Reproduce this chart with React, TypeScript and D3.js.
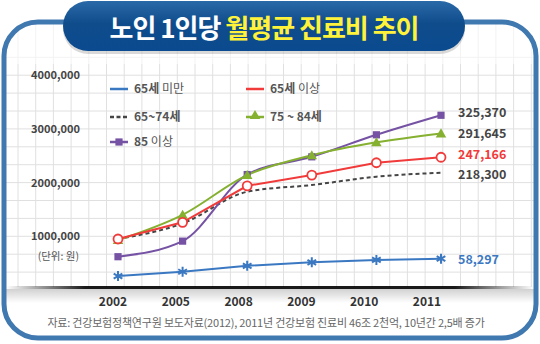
import React from "react";
import * as d3 from "d3";

const years = ["2002", "2005", "2008", "2009", "2010", "2011"];
const under65 = [26000, 34000, 45000, 51500, 56000, 58297];
const over65 = [95000, 126000, 194000, 214000, 237000, 247166];
const age65to74 = [95000, 124000, 183000, 195500, 211000, 218300];
const age75to84 = [93000, 140000, 214000, 251000, 275000, 291645];
const over85 = [62000, 91000, 215000, 248000, 289000, 325370];
const yTicks = [100000, 200000, 300000, 400000];
const yTickLabels = ["1000,000", "2000,000", "3000,000", "4000,000"];
const endLabels = ["325,370", "291,645", "247,166", "218,300", "58,297"];

const W = 540;
const H = 344;
const KR = "'Noto Sans CJK KR', 'Noto Sans', sans-serif";

const C_BLUE = "#3b78c2";
const C_RED = "#f13a3a";
const C_DASH = "#454545";
const C_GREEN = "#85b030";
const C_PURPLE = "#7552a3";

export default function App() {
  const x = d3.scalePoint<string>().domain(years).range([118, 441]);
  const xl = d3.scalePoint<string>().domain(years).range([113, 427]);
  const y = d3.scaleLinear().domain([0, 400000]).range([290, 75.2]);

  const mk = (vals: number[], curve: d3.CurveFactory) =>
    d3
      .line<number>()
      .x((_, i) => x(years[i]) as number)
      .y((v) => y(v))
      .curve(curve)(vals) as string;

  const gridV: number[] = [];
  for (let gx = 18; gx < 532; gx += 17.7) gridV.push(gx);
  const gridH: number[] = [];
  for (let gy = y(400000) - 17.9 * 1; gy < 288; gy += 17.9) gridH.push(gy);

  const asterisk = d3.symbol(d3.symbolAsterisk, 70)() as string;
  const tri = d3.symbol(d3.symbolTriangle, 48)() as string;
  const sq = d3.symbol(d3.symbolSquare, 52)() as string;

  const endY = [over85[5], age75to84[5], over65[5], age65to74[5], under65[5]];
  const endColors = ["#444", "#444", C_RED, "#444", C_BLUE];
  const endOffsets = [1.5, 4.5, 2, 6.5, 5];

  return (
    <svg width={W} height={H} style={{ display: "block", position: "absolute", left: 0, top: 0 }}>
      <defs>
        <linearGradient id="pill" x1="0" y1="0" x2="0" y2="1">
          <stop offset="0" stopColor="#2a69a8" />
          <stop offset="0.45" stopColor="#0f4c8c" />
          <stop offset="1" stopColor="#0a4a8e" />
        </linearGradient>
        <linearGradient id="base" x1="0" y1="0" x2="1" y2="0">
          <stop offset="0" stopColor="#000" stopOpacity="0" />
          <stop offset="0.15" stopColor="#000" stopOpacity="0.9" />
          <stop offset="0.85" stopColor="#000" stopOpacity="0.9" />
          <stop offset="1" stopColor="#000" stopOpacity="0" />
        </linearGradient>
        <linearGradient id="baseShadow" x1="0" y1="0" x2="0" y2="1">
          <stop offset="0" stopColor="#000" stopOpacity="0.18" />
          <stop offset="1" stopColor="#000" stopOpacity="0" />
        </linearGradient>
        <clipPath id="inner">
          <rect x={6} y={24} width={528} height={312} rx={32} />
        </clipPath>
      </defs>
      <rect x={0} y={0} width={W} height={H} fill="#fff" />
      <g clipPath="url(#inner)">
        {gridV.map((gx, i) => (
          <line key={"v" + i} x1={gx} x2={gx} y1={24} y2={287} stroke="#e0e0e0" strokeWidth={1} />
        ))}
        {gridH.map((gy, i) => (
          <line key={"h" + i} x1={6} x2={534} y1={gy} y2={gy} stroke="#e0e0e0" strokeWidth={1} />
        ))}
        <rect x={6} y={24} width={528} height={40} fill="#fff" opacity={0.6} />
        <rect x={6} y={289} width={528} height={14} fill="url(#baseShadow)" />
        <rect x={6} y={286} width={528} height={3} fill="url(#base)" />
      </g>
      <rect x={4} y={22} width={532} height={316} rx={34} fill="none" stroke="#4078b0" strokeWidth={5} />

      {/* title pill */}
      <rect x={63} y={4} width={402} height={50} rx={25} fill="#000" opacity={0.15} />
      <rect x={63} y={1} width={402} height={50} rx={25} fill="url(#pill)" />
      <text x={264} y={38} textAnchor="middle" fontFamily={KR} fontWeight={700} fontSize={26} letterSpacing={-1}>
        <tspan fill="#fff">노인 1인당 </tspan>
        <tspan fill="#fff23a">월평균 진료비 추이</tspan>
      </text>

      {/* y labels */}
      {yTicks.map((t, i) => (
        <text key={t} x={80} y={y(t) + 4} textAnchor="end" fontFamily={KR} fontWeight={700} fontSize={11} fill="#444">
          {yTickLabels[i]}
        </text>
      ))}
      <text x={79} y={y(100000) + 24} textAnchor="end" fontFamily={KR} fontSize={10.5} fill="#555">
        (단위: 원)
      </text>

      {/* x labels */}
      {years.map((yr) => (
        <text key={yr} x={xl(yr)} y={306} textAnchor="middle" fontFamily={KR} fontWeight={700} fontSize={12} fill="#333">
          {yr}
        </text>
      ))}

      {/* lines */}
      <path d={mk(under65, d3.curveLinear)} fill="none" stroke={C_BLUE} strokeWidth={2} />
      <path d={mk(age65to74, d3.curveMonotoneX)} fill="none" stroke={C_DASH} strokeWidth={2} strokeDasharray="4,3" />
      <path d={mk(over85, d3.curveMonotoneX)} fill="none" stroke={C_PURPLE} strokeWidth={2} />
      <path d={mk(age75to84, d3.curveMonotoneX)} fill="none" stroke={C_GREEN} strokeWidth={2} />
      <path d={mk(over65, d3.curveLinear)} fill="none" stroke={C_RED} strokeWidth={2} />

      {/* markers */}
      {under65.map((v, i) => (
        <path key={"b" + i} d={asterisk} transform={`translate(${x(years[i])},${y(v)})`} fill="none" stroke={C_BLUE} strokeWidth={2} />
      ))}
      {over85.map((v, i) => (
        <path key={"p" + i} d={sq} transform={`translate(${x(years[i])},${y(v)})`} fill={C_PURPLE} />
      ))}
      {age75to84.map((v, i) => (
        <path key={"g" + i} d={tri} transform={`translate(${x(years[i])},${y(v) + 1})`} fill={C_GREEN} />
      ))}
      {over65.map((v, i) => (
        <circle key={"r" + i} cx={x(years[i])} cy={y(v)} r={4.5} fill="#fff" stroke={C_RED} strokeWidth={1.8} />
      ))}

      {/* end labels */}
      {endLabels.map((l, i) => (
        <text key={l} x={458} y={y(endY[i]) + endOffsets[i]} fontFamily={KR} fontWeight={700} fontSize={12.5} fill={endColors[i]}>
          {l}
        </text>
      ))}

      {/* legend */}
      <g fontFamily={KR} fontSize={12} fill="#555">
        <line x1={110} x2={128} y1={89} y2={89} stroke={C_BLUE} strokeWidth={2.5} />
        <text x={134} y={93}>
          <tspan fontWeight={700}>65세</tspan> 미만
        </text>
        <line x1={110} x2={128} y1={117} y2={117} stroke={C_DASH} strokeWidth={2.5} strokeDasharray="4,2.5" />
        <text x={134} y={121} fontWeight={700}>
          65~74세
        </text>
        <line x1={110} x2={128} y1={142} y2={142} stroke={C_PURPLE} strokeWidth={2.5} />
        <path d={sq} transform="translate(119,142)" fill={C_PURPLE} />
        <text x={134} y={146}>
          <tspan fontWeight={700}>85</tspan> 이상
        </text>
        <line x1={246} x2={264} y1={89} y2={89} stroke={C_RED} strokeWidth={2.5} />
        <text x={270} y={93}>
          <tspan fontWeight={700}>65세</tspan> 이상
        </text>
        <line x1={246} x2={264} y1={117} y2={117} stroke={C_GREEN} strokeWidth={2.5} />
        <path d={tri} transform="translate(255,116)" fill={C_GREEN} />
        <text x={270} y={121} fontWeight={700}>
          75 ~ 84세
        </text>
      </g>

      {/* footnote */}
      <text x={266} y={327} textAnchor="middle" fontFamily={KR} fontSize={11} fill="#666" letterSpacing={-0.2}>
        자료: 건강보험정책연구원 보도자료(2012), 2011년 건강보험 진료비 46조 2천억, 10년간 2,5배 증가
      </text>
    </svg>
  );
}
